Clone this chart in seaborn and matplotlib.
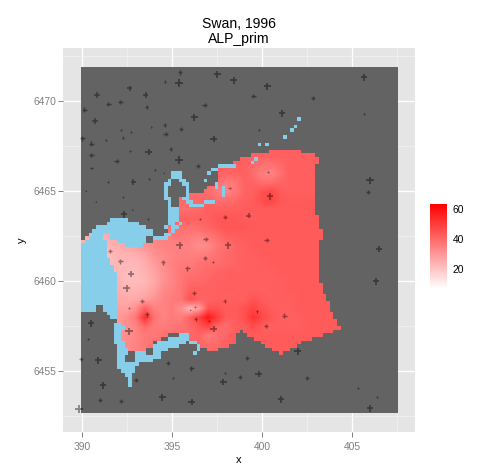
import numpy as np
import pandas as pd
import matplotlib
matplotlib.use("Agg")
import matplotlib.pyplot as plt
from matplotlib.colors import ListedColormap, LinearSegmentedColormap
from matplotlib.patches import Rectangle
import seaborn as sns

title = "Swan, 1996\nALP_prim"
x_ticks = [390, 395, 400, 405]
y_ticks = [6455, 6460, 6465, 6470]
cbar_ticks = [20, 40, 60]

# sampling stations: x, y, and size of the cross
station_x = [395.43,397.51,398.40,394.60,395.37,392.64,390.81,393.53,399.50,391.44,392.11,396.79,393.58,390.11,396.22,390.70,394.58,392.16,392.70,393.84,395.50,394.63,392.27,390.00,391.33,397.29,390.50,394.91,392.64,393.69,390.50,391.92,395.37,396.42,390.50,394.04,394.52,393.69,391.44,392.83,398.18,390.19,392.27,390.74,392.79,392.31,393.66,396.54,397.92,399.24,396.85,395.41,398.09,399.83,
 391.55,392.11,394.49,396.81,397.27,395.83,392.71,392.47,396.20,393.32,397.90,392.57,396.26,396.00,393.60,399.70,396.30,397.05,397.29,392.59,390.48,390.33,389.95,390.89,399.13,394.76,396.06,397.92,399.80,398.78,395.04,392.99,397.83,391.16,394.45,390.98,392.16,396.07,389.82,
 405.65,400.28,402.83,401.10,405.67,400.31,405.98,405.89,400.42,400.24,406.48,406.31,401.22,400.18,401.97,402.50,405.30,406.39,401.03,405.98]
station_y = [6471.61,6471.50,6471.16,6471.09,6471.00,6470.72,6470.35,6470.35,6470.29,6469.85,6469.96,6469.79,6469.68,6469.52,6469.11,6468.89,6468.68,6468.41,6468.29,6468.57,6468.46,6468.18,6467.98,6467.94,6467.85,6467.89,6467.63,6467.35,6467.22,6467.18,6467.00,6466.68,6466.74,6466.39,6466.28,6466.18,6466.02,6465.68,6465.52,6465.50,6465.18,6465.02,6464.68,6464.41,6463.98,6463.72,6463.44,6463.46,6463.57,6463.63,6462.35,6462.00,6462.00,6468.42,
 6461.66,6461.11,6461.05,6461.28,6461.07,6460.72,6460.39,6459.61,6459.33,6458.89,6458.89,6458.52,6458.57,6458.41,6458.16,6458.33,6457.89,6457.79,6457.35,6457.22,6457.66,6456.79,6455.68,6455.61,6455.72,6455.44,6455.16,6454.92,6454.85,6454.68,6454.63,6454.50,6454.39,6454.22,6453.55,6453.39,6453.33,6453.28,6452.89,
 6471.33,6470.83,6470.16,6469.33,6469.29,6466.07,6465.61,6464.94,6464.72,6462.28,6461.79,6460.00,6458.09,6457.50,6456.11,6454.61,6454.07,6453.57,6453.44,6452.94]
station_size = [7,10,10,4,11,8,8,8,7,7,7,7,5,7,10,8,5,3,3,2,6,7,4,7,3,10,7,5,3,10,7,7,11,7,4,3,2,3,3,8,4,2,2,2,2,10,3,3,7,8,7,10,10,3,
 6,7,7,7,4,7,10,10,6,6,5,3,3,2,7,4,5,3,10,11,10,3,6,10,6,6,7,3,10,6,3,7,10,10,10,7,6,10,11,
 10,10,6,10,3,4,11,6,10,7,10,10,7,6,10,6,3,3,10,10]

# ALP_prim read on a 0.5 km grid, north to south, west to east (390 ... 405)
alp_y = [6467.5,6467,6466.5,6466,6465.5,6465,6464.5,6464,6463.5,6463,6462.5,6462,6461.5,6461,6460.5,6460,6459.5,6459,6458.5,6458,6457.5,6457,6456.5,6456,6455.5]
alp_x = [390,390.5,391,391.5,392,392.5,393,393.5,394,394.5,395,395.5,396,396.5,397,397.5,398,398.5,399,399.5,400,400.5,401,401.5,402,402.5,403,403.5,404,404.5,405]
alp = [
 [42,42,42,42,42,42,42,42,42,42,42,42,42,42,42,42,42,42,42,42,42,42,42,42,42,42,42,42,42,42,42],
 [42,42,42,42,42,42,42,42,42,42,42,42,42,42,42,42,42,42,42,42,42,42,42,42,42,42,42,42,42,42,42],
 [42,42,42,42,42,42,42,42,42,42,42,42,42,42,42,42,42,42,42,40,38,38,40,42,42,42,42,42,42,42,42],
 [42,42,42,42,42,42,42,42,42,42,42,42,42,42,42,41,41,41,42,39,35,34,38,42,42,42,42,42,42,42,42],
 [41,41,41,41,41,41,41,41,41,41,41,41,41,41,41,40,36,37,41,41,39,39,41,42,42,42,42,42,42,42,42],
 [40,40,40,40,40,40,40,40,40,40,40,40,40,40,39,36,34,37,41,42,45,47,43,42,42,42,42,42,42,42,42],
 [40,40,40,40,40,40,40,40,40,40,40,40,40,40,41,39,39,40,42,43,46,48,44,43,43,43,43,43,43,43,43],
 [39,39,39,39,39,39,39,39,39,39,39,39,39,40,42,42,42,42,43,43,43,43,43,43,43,43,43,43,43,43,43],
 [37,37,37,37,37,39,40,40,41,41,41,42,42,42,42,44,44,44,43,43,43,43,43,43,43,43,43,43,43,43,43],
 [27,27,27,29,32,34,36,37,38,39,39,39,38,39,41,43,44,44,44,43,43,43,43,43,43,43,43,43,43,43,43],
 [25,25,25,25,26,27,30,31,34,35,36,37,36,35,37,39,42,42,43,43,43,43,43,43,43,43,43,43,43,43,43],
 [23,23,23,24,25,27,29,31,33,34,35,35,34,32,33,37,39,41,42,43,43,43,43,43,43,43,43,43,43,43,43],
 [22,22,22,22,24,24,25,27,31,33,34,35,35,35,36,38,40,41,42,42,43,43,43,43,43,43,43,43,43,43,43],
 [22,22,22,22,23,23,23,25,29,32,35,36,36,38,39,39,40,41,42,42,42,43,43,43,43,43,43,43,43,43,43],
 [22,22,22,22,23,22,22,24,27,31,34,37,38,39,40,41,42,42,42,42,42,42,43,43,43,43,43,43,43,43,43],
 [23,23,23,23,24,22,22,23,26,31,34,37,40,40,41,42,42,42,42,42,42,42,42,43,43,43,43,43,43,43,43],
 [25,25,25,25,25,24,24,25,28,33,35,37,42,42,42,42,42,42,42,42,42,42,42,43,43,43,43,43,43,43,43],
 [26,26,26,26,26,26,26,28,31,34,36,37,45,41,41,42,42,42,42,45,43,42,42,42,43,43,43,43,43,43,43],
 [28,28,28,28,28,28,32,42,35,34,36,32,23,28,45,45,43,43,45,48,45,43,42,42,43,43,43,43,43,43,43],
 [29,29,29,29,29,32,37,53,38,34,36,35,42,49,58,50,43,43,45,52,47,44,42,42,42,43,43,43,43,43,43],
 [29,29,29,29,29,32,34,40,36,36,37,38,40,44,48,41,39,42,43,46,43,42,42,42,42,43,43,43,43,43,43],
 [29,29,29,29,29,32,34,36,37,38,39,39,40,41,36,38,41,43,43,43,43,43,43,43,43,43,43,43,43,43,43],
 [30,30,30,30,30,33,34,37,38,39,39,40,41,41,39,40,42,43,43,43,43,43,43,43,43,43,43,43,43,43,43],
 [31,31,31,31,31,33,34,36,38,39,39,40,40,41,41,41,42,43,43,43,43,43,43,43,43,43,43,43,43,43,43],
 [31,31,31,31,31,33,34,36,38,39,39,40,40,41,41,41,42,43,43,43,43,43,43,43,43,43,43,43,43,43,43],
]

# land / water / data cells of the 0.2 km grid: row -> runs of cells (b water, r data, rest land)
mask_rows = {
 14:"b60-61",16:"b59-60",17:"b58-59",19:"b56-57",21:"b49-50 b51-52",23:"r52-61",24:"r47-65",
 25:"r44-48 b48-49 r49-66",26:"r42-47 b47-48 r48-66",27:"b38-43 r43-65",28:"b36-38 r38-65",
 29:"b25-28 b35-36 r38-65",30:"b25-28 r38-65",31:"b24-25 b27-29 b34-35 r38-65",
 32:"b23-25 b28-30 b37-38 r38-65",33:"b23-24 b29-30 r35-37 b37-38 r38-39 b39-40 r40-65",
 34:"b23-24 b29-30 r34-39 b39-40 r40-65",35:"b23-24 b29-30 r30-39 b39-40 r40-65",
 36:"b23-25 r27-28 b28-30 r30-65",37:"b24-25 r27-29 b29-31 r31-34 b34-37 r37-65",
 38:"b24-25 r27-30 b30-34 r34-65",39:"b24-27 r27-65",40:"b24-27 r27-65",41:"b24-27 r27-66",
 42:"b8-13 b24-27 r27-66",43:"b7-16 b24-26 r26-27 b27-28 r28-66",
 44:"b4-18 b23-24 r24-25 b25-27 r27-66",45:"b3-20 r24-25 b25-26 r26-67",
 46:"r2-3 b3-6 r6-8 b8-20 b23-25 r25-67",47:"r1-2 b2-6 r6-8 b8-18 b20-24 r24-67",
 48:"r0-1 b1-7 r7-10 b10-18 r20-66",49:"b0-7 r7-12 b12-17 r17-66",
 50:"b0-7 r7-66",51:"b0-7 r7-66",52:"b0-7 r7-66",53:"b0-8 r8-66",54:"b0-8 r8-66",
 55:"b0-9 r9-66",56:"b0-9 r9-66",57:"b0-10 r10-66",58:"b0-10 r10-66",59:"b0-10 r10-66",
 60:"b0-10 r10-67",61:"b0-10 r10-67",62:"b0-10 r10-67",63:"b0-10 r10-68",64:"b0-10 r10-68",
 65:"b0-10 r10-69",66:"b0-4 b6-10 r10-69",67:"b0-4 b6-10 r10-69",68:"b7-10 r10-70",
 69:"b8-10 r10-70",70:"r10-71",71:"b9-11 r11-71",72:"b9-12 r12-72",73:"b9-11 r11-44 r45-70",
 74:"b9-11 r11-24 b27-30 r30-43 r46-67",75:"b9-11 r11-22 b24-30 r30-43 r48-64",
 76:"b9-12 r12-20 b21-29 b30-32 r32-43 r50-61",77:"b10-12 r12-20 b20-27 b32-33 r33-41 r51-60",
 78:"b10-13 r13-18 b20-24 b32-33 r35-38 r53-58",79:"b10-13 b15-18 b20-22 b31-32 r55-56",
 80:"b10-12 b15-22",81:"b10-12 b15-20",82:"b10-16",83:"b10-15",84:"b11-15",85:"b12-14",
 86:"b13-14",87:"b13-14",88:"b13-14",
}

sns.set_theme(style="darkgrid", rc={
    "axes.facecolor": "#E5E5E5", "grid.color": "white", "figure.facecolor": "white",
    "axes.edgecolor": "#E5E5E5", "axes.linewidth": 0})
plt.rcParams["font.family"] = ["Liberation Sans", "DejaVu Sans"]

W, H = 500, 472
fig = plt.figure(figsize=(W/100, H/100), dpi=100)
ax = fig.add_axes([63/W, 1-432/H, (415-63)/W, (432-47.7)/H])

ncol, nrow = 88, 96
cell = 0.2
x0, ytop = 389.95, 6471.9

# data layer
cmap = LinearSegmentedColormap.from_list("wr", ["white", "red"])
vmin, vmax = 7, 63
im = ax.imshow(np.array(alp, float), extent=(alp_x[0]-.25, alp_x[-1]+.25, alp_y[-1]-.25, alp_y[0]+.25),
               cmap=cmap, vmin=vmin, vmax=vmax, interpolation="bilinear", aspect="auto", zorder=2)
im.set_clip_path(Rectangle((x0, ytop-cell*nrow), cell*ncol, cell*nrow, transform=ax.transData))

# land / water layer
codes = np.zeros((nrow, ncol))
for r, spec in mask_rows.items():
    for run in spec.split():
        a, b = run[1:].split("-")
        codes[r, int(a):int(b)] = {"b": 1, "r": 2}[run[0]]
codes = np.ma.masked_equal(codes, 2)
xe = x0 + cell*np.arange(ncol+1)
ye = ytop - cell*np.arange(nrow+1)
ax.pcolormesh(xe, ye, codes, cmap=ListedColormap(["#636363", "#87CEEB"]), vmin=0, vmax=1,
              antialiased=False, linewidth=0, zorder=3)

# stations
stations = pd.DataFrame({"x": station_x, "y": station_y, "s": np.array(station_size, float)**2})
sns.scatterplot(data=stations, x="x", y="y", size="s", sizes=(0.9, 28), marker="+", color="black",
                alpha=0.42, linewidth=1.0, legend=False, ax=ax, zorder=4, clip_on=False)
ax.collections[-1].set_linewidths(0.55 + 0.07*np.array(station_size, float))

ax.set_xlim(388.93, 408.48)
ax.set_ylim(6451.62, 6472.97)
ax.set_xticks(x_ticks)
ax.set_yticks(y_ticks)
ax.set_xticks([392.5, 397.5, 402.5, 407.5], minor=True)
ax.set_yticks([6452.5, 6457.5, 6462.5, 6467.5, 6472.5], minor=True)
ax.grid(True, which="major", color="white", linewidth=0.9)
ax.grid(True, which="minor", color="#F2F2F2", linewidth=0.5)
ax.set_axisbelow(True)
ax.tick_params(axis="both", which="major", length=3.4, width=0.7, color="#7F7F7F",
               labelcolor="#7F7F7F", labelsize=7.4, pad=1.5, bottom=True, left=True)
ax.tick_params(axis="x", which="major", pad=3.5)
ax.tick_params(axis="both", which="minor", length=0)
ax.set_xlabel("x", fontsize=8, color="black", labelpad=2.5)
ax.set_ylabel("y", fontsize=8, color="black", labelpad=4.5)
ax.set_title(title, fontsize=10.1, color="black", pad=3.5, linespacing=1.12)
for s in ax.spines.values():
    s.set_visible(False)

# colour bar
cax = fig.add_axes([430/W, 1-289/H, 17/W, 85/H])
cb = fig.colorbar(im, cax=cax, ticks=cbar_ticks)
cb.outline.set_visible(False)
cb.ax.grid(False)
cb.ax.tick_params(axis="y", which="major", direction="in", length=3, width=0.8, color="white",
                  left=True, right=True, labelsize=7.4, labelcolor="black", pad=4)
cb.ax.minorticks_off()

fig.savefig("out.png", dpi=100)
